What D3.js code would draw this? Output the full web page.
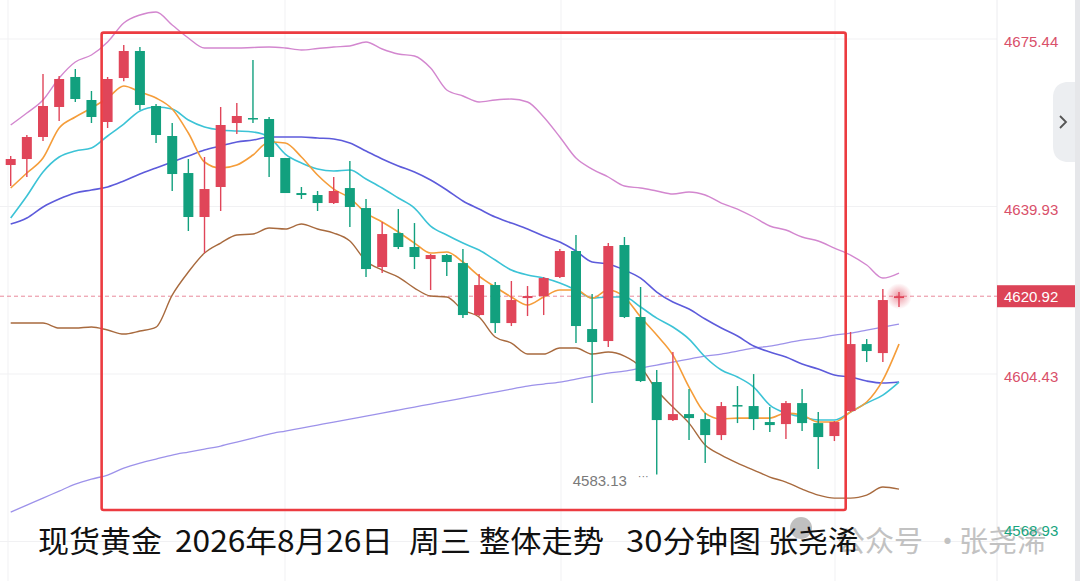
<!DOCTYPE html>
<html>
<head>
<meta charset="utf-8">
<script src="https://cdn.jsdelivr.net/npm/d3@7"></script>
<style>
  html, body { margin: 0; padding: 0; background: #fff; }
  svg { display: block; }
</style>
</head>
<body>
<div class="chart"></div>
<script>
const width = 1080, height = 581;

// candles, red = up, green = down
const opens  = [4648.73,4650.00,4654.67,4661.03,4667.39,4662.51,4657.85,4667.17,4672.90,4661.24,
                4654.88,4647.03,4637.71,4644.07,4657.63,4658.69,4658.48,4650.21,4642.79,4642.37,
                4640.67,4643.85,4639.61,4627.11,4634.31,4631.35,4628.80,4629.65,4627.95,4616.93,
                4623.29,4615.23,4620.53,4620.96,4624.99,4630.50,4613.96,4611.42,4631.77,4616.51,
                4602.73,4594.67,4595.94,4594.88,4591.49,4597.85,4597.64,4594.25,4593.82,4598.27,
                4594.03,4591.28,4596.58,4610.78,4608.87,4620.53];
const highs  = [4650.64,4655.09,4668.02,4667.60,4669.08,4664.42,4667.39,4674.17,4673.75,4661.66,
                4657.63,4650.00,4650.43,4661.03,4661.87,4670.99,4658.91,4650.21,4644.07,4643.22,
                4646.19,4649.58,4641.52,4636.65,4639.40,4636.43,4629.86,4629.86,4630.92,4625.62,
                4623.93,4624.14,4623.08,4624.99,4630.92,4633.89,4621.38,4632.19,4633.47,4622.87,
                4605.27,4609.09,4601.24,4596.15,4598.49,4601.88,4604.42,4597.43,4598.70,4601.24,
                4596.37,4594.46,4613.33,4611.84,4622.44,4621.81];
const lows   = [4644.28,4646.19,4653.82,4658.06,4662.09,4657.63,4656.57,4666.50,4660.39,4653.39,
                4643.22,4634.74,4630.07,4638.98,4655.30,4657.63,4646.19,4642.79,4641.52,4638.98,
                4640.46,4635.59,4624.99,4625.83,4630.92,4626.68,4622.23,4625.20,4616.29,4616.72,
                4613.11,4614.60,4616.72,4616.93,4624.77,4611.01,4598.27,4610.15,4616.29,4602.73,
                4583.13,4594.46,4590.43,4585.55,4590.43,4594.03,4592.55,4592.13,4590.64,4592.34,
                4584.28,4590.22,4596.37,4606.97,4606.97,4618.63];
const closes = [4650.00,4654.67,4661.24,4666.96,4662.72,4658.91,4666.96,4672.90,4661.45,4655.09,
                4646.82,4637.71,4643.64,4657.21,4659.12,4658.48,4650.43,4642.79,4642.37,4640.67,
                4643.22,4639.83,4626.68,4634.10,4631.35,4629.23,4629.65,4628.17,4616.93,4623.29,
                4615.23,4620.11,4620.96,4624.77,4630.50,4614.60,4611.21,4631.56,4616.51,4602.94,
                4594.67,4595.94,4595.09,4591.49,4597.64,4597.64,4594.88,4593.61,4598.27,4594.03,
                4591.07,4594.25,4610.78,4609.30,4620.11,4620.92];

// indicator lines
const ma5    = [4643.85,4647.03,4650.21,4656.57,4658.91,4660.81,4662.93,4665.48,4664.21,4662.93,
                4660.60,4655.51,4649.37,4648.09,4648.73,4650.85,4653.61,4653.39,4650.43,4646.61,
                4643.64,4641.73,4638.55,4636.65,4634.53,4632.19,4630.07,4630.29,4628.17,4625.20,
                4622.87,4620.75,4619.05,4620.75,4622.23,4622.23,4620.53,4622.23,4620.75,4616.51,
                4612.69,4608.45,4601.67,4596.15,4594.88,4595.09,4595.09,4595.09,4596.15,4595.73,
                4594.25,4594.25,4596.37,4598.49,4603.15,4610.78];
const ma10   = [4637.49,4642.16,4647.25,4650.43,4651.70,4652.33,4654.88,4657.42,4660.18,4661.03,
                4660.60,4658.27,4656.79,4656.15,4655.94,4655.73,4654.67,4651.06,4649.15,4647.88,
                4647.46,4647.67,4645.76,4643.85,4641.73,4639.61,4635.80,4633.89,4632.19,4630.71,
                4628.59,4626.47,4625.41,4624.77,4623.71,4622.23,4620.53,4620.75,4620.75,4618.63,
                4616.29,4614.39,4611.84,4608.03,4605.27,4603.79,4601.67,4597.85,4596.15,4595.31,
                4594.67,4594.67,4596.37,4598.27,4599.97,4602.73];
const bollMid = [4636.22,4637.49,4639.83,4641.52,4642.79,4643.43,4644.07,4645.34,4646.82,4648.09,
                4649.37,4650.64,4651.91,4652.76,4653.61,4654.03,4654.67,4654.67,4654.67,4654.45,
                4654.24,4653.39,4651.70,4650.00,4648.52,4647.25,4645.55,4643.43,4641.10,4639.40,
                4637.71,4636.43,4635.16,4633.68,4632.41,4630.50,4628.17,4627.74,4626.47,4624.77,
                4621.81,4619.69,4618.20,4616.08,4614.17,4612.48,4610.36,4609.09,4608.03,4606.54,
                4605.48,4604.21,4603.79,4602.94,4602.51,4602.73];
const bollUp = [4657.21,4659.75,4662.51,4667.17,4670.57,4672.05,4674.81,4678.83,4680.53,4681.17,
                4678.41,4675.65,4673.53,4673.53,4673.53,4673.64,4673.75,4673.53,4673.11,4673.43,
                4673.75,4673.96,4674.81,4673.32,4672.26,4671.84,4669.29,4664.63,4663.36,4662.09,
                4662.51,4662.72,4662.09,4658.91,4654.67,4650.21,4647.88,4646.19,4644.28,4643.85,
                4643.22,4642.58,4643.01,4642.37,4640.67,4639.40,4637.71,4635.80,4634.95,4633.47,
                4632.62,4631.13,4629.65,4627.53,4624.77,4625.83];
const bollLow = [4615.23,4615.23,4615.23,4614.17,4614.17,4614.39,4613.75,4612.90,4613.54,4614.39,
                4621.17,4626.05,4630.07,4632.19,4633.89,4634.10,4635.37,4635.16,4636.22,4635.16,
                4634.31,4632.62,4628.38,4626.47,4624.99,4622.65,4620.96,4620.75,4617.99,4616.51,
                4612.27,4610.99,4608.66,4608.66,4609.93,4609.93,4608.66,4609.09,4608.24,4605.91,
                4601.03,4597.43,4594.03,4589.37,4587.25,4585.55,4584.07,4582.59,4581.53,4580.04,
                4578.77,4578.13,4578.13,4578.77,4580.47,4580.04];
const maLong = [4575.17,4576.65,4578.13,4579.62,4581.10,4582.16,4583.01,4584.49,4585.55,4586.40,
                4587.25,4587.89,4588.52,4589.16,4590.01,4590.85,4591.70,4592.34,4592.97,4593.61,
                4594.25,4594.88,4595.52,4596.15,4596.79,4597.43,4598.06,4598.70,4599.33,4599.97,
                4600.61,4601.24,4601.88,4602.30,4602.73,4603.36,4604.00,4604.63,4605.06,4605.69,
                4606.33,4606.97,4607.60,4608.24,4608.66,4609.30,4609.93,4610.36,4610.99,4611.63,
                4612.05,4612.69,4613.11,4613.75,4614.39,4615.02];

const axisTicks = [4675.44, 4639.93, 4604.43, 4568.93];
const lastPrice = 4620.92;
const lowMark = { index: 40, value: 4583.13 };
const boxRange = { fromIndex: 5.63, toIndex: 51.7, top: 4676.8, bottom: 4575.6 };

// title pieces: left edge and width
const titleParts = ["现货黄金", "2026年8月26日", "周三", "整体走势", "30分钟图", "张尧浠"];
const titleX     = [38, 175, 409, 479, 626, 768];
const titleW     = [124, 218, 62, 125, 135, 90];
const markParts  = ["公众号", "·", "张尧浠"];
const markX      = [836, 933, 959];

const upColor = "#e04559", downColor = "#12a07e";

const svg = d3.select(".chart").append("svg")
  .attr("width", width)
  .attr("height", height);

const x = d3.scaleLinear().domain([0, opens.length - 1]).range([10.7, 899]);
const y = d3.scaleLinear().domain([4568.93, 4675.44]).range([541.5, 39]);
const plotRight = 997;

// grid
[8, 285, 561, 835].forEach(gx => {
  svg.append("line")
    .attr("x1", gx).attr("x2", gx).attr("y1", 0).attr("y2", height)
    .attr("stroke", "#f1f1f3").attr("stroke-width", 1);
});
axisTicks.forEach(v => {
  svg.append("line")
    .attr("x1", 0).attr("x2", plotRight).attr("y1", y(v)).attr("y2", y(v))
    .attr("stroke", "#f1f1f3").attr("stroke-width", 1);
});

// axis separator and right border
svg.append("line")
  .attr("x1", plotRight).attr("x2", plotRight).attr("y1", 0).attr("y2", height)
  .attr("stroke", "#ececef");
svg.append("rect")
  .attr("x", 1075).attr("y", 0).attr("width", 5).attr("height", height)
  .attr("fill", "#e6e7ea");

// last price dashed line
svg.append("line")
  .attr("x1", 0).attr("x2", plotRight)
  .attr("y1", y(lastPrice)).attr("y2", y(lastPrice))
  .attr("stroke", "#e98a9b").attr("stroke-width", 1)
  .attr("stroke-dasharray", "4,3");

// lines
const idx = d3.range(opens.length);
function drawLine(values, color, w) {
  const line = d3.line()
    .x(i => x(i))
    .y(i => y(values[i]))
    .curve(d3.curveMonotoneX);
  svg.append("path")
    .datum(idx)
    .attr("d", line)
    .attr("fill", "none")
    .attr("stroke", color)
    .attr("stroke-width", w);
}
drawLine(maLong, "#9d92ea", 1.3);
drawLine(bollUp, "#d387cf", 1.4);
drawLine(bollLow, "#a86a3e", 1.4);
drawLine(bollMid, "#5d5bdb", 1.6);
drawLine(ma10, "#3cc3d6", 1.6);
drawLine(ma5, "#f59d3a", 1.6);

// candles
const bodyW = 10;
idx.forEach(i => {
  const up = closes[i] >= opens[i];
  const col = up ? upColor : downColor;
  const g = svg.append("g");
  g.append("line")
    .attr("x1", x(i)).attr("x2", x(i))
    .attr("y1", y(highs[i])).attr("y2", y(lows[i]))
    .attr("stroke", col).attr("stroke-width", 1.4);
  const top = y(Math.max(opens[i], closes[i]));
  const bot = y(Math.min(opens[i], closes[i]));
  g.append("rect")
    .attr("x", x(i) - bodyW / 2)
    .attr("y", top)
    .attr("width", bodyW)
    .attr("height", Math.max(1.5, bot - top))
    .attr("fill", col);
});

// glow on last candle
const defs = svg.append("defs");
const grad = defs.append("radialGradient").attr("id", "glow");
grad.append("stop").attr("offset", "0%").attr("stop-color", "#e04559").attr("stop-opacity", 0.55);
grad.append("stop").attr("offset", "100%").attr("stop-color", "#e04559").attr("stop-opacity", 0);
svg.append("circle")
  .attr("cx", x(opens.length - 1)).attr("cy", y(lastPrice))
  .attr("r", 13).attr("fill", "url(#glow)");

// low annotation
svg.append("text")
  .attr("x", x(lowMark.index) - 84).attr("y", y(lowMark.value) + 11)
  .attr("font-family", "Liberation Sans, Arial, sans-serif")
  .attr("font-size", 15).attr("fill", "#7a7a7a")
  .text(lowMark.value.toFixed(2));
svg.append("text")
  .attr("x", x(lowMark.index) - 19).attr("y", y(lowMark.value) + 5)
  .attr("font-family", "Liberation Sans, Arial, sans-serif")
  .attr("font-size", 11).attr("fill", "#7a7a7a")
  .text("···");

// red highlight box
svg.append("rect")
  .attr("x", x(boxRange.fromIndex)).attr("y", y(boxRange.top))
  .attr("width", x(boxRange.toIndex) - x(boxRange.fromIndex))
  .attr("height", y(boxRange.bottom) - y(boxRange.top))
  .attr("rx", 2)
  .attr("fill", "none").attr("stroke", "#ec3b40").attr("stroke-width", 2.6);

// collapse button
svg.append("path")
  .attr("d", "M1075,82 L1066,82 Q1053,84 1053,98 L1053,146 Q1053,160 1066,162 L1075,162 Z")
  .attr("fill", "#eceef1");
svg.append("path")
  .attr("d", "M1060,116 L1066,122 L1060,128")
  .attr("fill", "none").attr("stroke", "#555").attr("stroke-width", 1.8);

// watermark
svg.append("circle")
  .attr("cx", 801).attr("cy", 528).attr("r", 11)
  .attr("fill", "#8d8d8d").attr("opacity", 0.55);
markParts.forEach((t, k) => {
  svg.append("text")
    .attr("x", markX[k]).attr("y", 552)
    .attr("font-family", "Noto Sans CJK SC, sans-serif")
    .attr("font-size", 29).attr("fill", "#bcbcbc").attr("opacity", 0.9)
    .text(t);
});

// right axis labels
axisTicks.forEach((v, k) => {
  const last = k === axisTicks.length - 1;
  svg.append("text")
    .attr("x", 1004)
    .attr("y", last ? 536 : y(v) + 8)
    .attr("font-family", "Liberation Sans, Arial, sans-serif")
    .attr("font-size", 15)
    .attr("fill", last ? "#18a57f" : "#d9506a")
    .text(v.toFixed(2));
});
svg.append("rect")
  .attr("x", 997).attr("y", y(lastPrice) - 11)
  .attr("width", 78).attr("height", 22)
  .attr("fill", "#dc4357");
svg.append("text")
  .attr("x", 1004).attr("y", y(lastPrice) + 6)
  .attr("font-family", "Liberation Sans, Arial, sans-serif")
  .attr("font-size", 15).attr("fill", "#fff")
  .text(lastPrice.toFixed(2));

// title
titleParts.forEach((t, k) => {
  svg.append("text")
    .attr("x", titleX[k]).attr("y", 552)
    .attr("font-family", "Noto Sans CJK SC, sans-serif")
    .attr("font-size", 30).attr("fill", "#111")
    .attr("textLength", titleW[k])
    .attr("lengthAdjust", "spacingAndGlyphs")
    .text(t);
});
</script>
</body>
</html>
